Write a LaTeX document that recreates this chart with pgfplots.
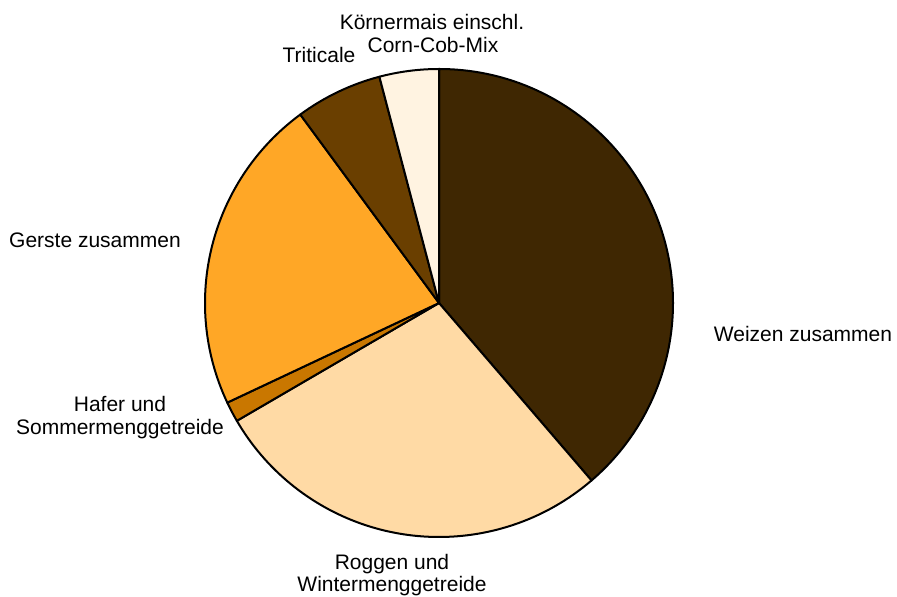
\documentclass[border=0pt]{standalone}
\usepackage{fontspec}
\setmainfont{Liberation Sans}
\usepackage{pgfplots}
\usepackage{pgfplotstable}
\pgfplotsset{compat=1.18}
\definecolor{cWeizen}{HTML}{3F2702}
\definecolor{cRoggen}{HTML}{FFDAA5}
\definecolor{cHafer}{HTML}{C97700}
\definecolor{cGerste}{HTML}{FFA726}
\definecolor{cTriti}{HTML}{6A3F00}
\definecolor{cMais}{HTML}{FFF3E1}
\pgfplotstableread{
label value
Weizen 38.7
Roggen 27.9
Hafer 1.4
Gerste 21.9
Triticale 6.0
Koernermais 4.1
}\pietab
\newcommand\getang[2]{%
  \pgfplotstablegetelem{#1}{value}\of\pietab
  \pgfmathsetmacro\tmpang{\cumang - 3.6*\pgfplotsretval}%
  \xdef#2{\tmpang}\xdef\cumang{\tmpang}}
\begin{document}
\begin{tikzpicture}
\xdef\cumang{90}
\getang{0}{\aA}\getang{1}{\aB}\getang{2}{\aC}\getang{3}{\aD}\getang{4}{\aE}\getang{5}{\aF}
\begin{axis}[x=1pt,y=1pt,xmin=0,xmax=897,ymin=0,ymax=597,hide axis,clip=false,
  at={(0,0)},anchor=south west,scale only axis]
\def\R{234pt}
\tikzset{wedge/.style={draw=black,line width=2pt,line join=round}}
\filldraw[wedge,fill=cWeizen] (axis cs:439,294) -- ++(90:\R) arc[start angle=90,end angle=\aA,radius=\R] -- cycle;
\filldraw[wedge,fill=cRoggen] (axis cs:439,294) -- ++(\aA:\R) arc[start angle=\aA,end angle=\aB,radius=\R] -- cycle;
\filldraw[wedge,fill=cHafer] (axis cs:439,294) -- ++(\aB:\R) arc[start angle=\aB,end angle=\aC,radius=\R] -- cycle;
\filldraw[wedge,fill=cGerste] (axis cs:439,294) -- ++(\aC:\R) arc[start angle=\aC,end angle=\aD,radius=\R] -- cycle;
\filldraw[wedge,fill=cTriti] (axis cs:439,294) -- ++(\aD:\R) arc[start angle=\aD,end angle=\aE,radius=\R] -- cycle;
\filldraw[wedge,fill=cMais] (axis cs:439,294) -- ++(\aE:\R) arc[start angle=\aE,end angle=\aF,radius=\R] -- cycle;
\tikzset{lab/.style={anchor=base,inner sep=0pt,font=\fontsize{21}{23}\selectfont}}
\node[lab] at (axis cs:432,567) {Körnermais einschl.};
\node[lab] at (axis cs:433,544) {Corn-Cob-Mix};
\node[lab] at (axis cs:319,534) {Triticale};
\node[lab] at (axis cs:95,349) {Gerste zusammen};
\node[lab] at (axis cs:803,255) {Weizen zusammen};
\node[lab] at (axis cs:120,185) {Hafer und};
\node[lab] at (axis cs:120,162) {Sommermenggetreide};
\node[lab] at (axis cs:392,27) {Roggen und};
\node[lab] at (axis cs:392,5) {Wintermenggetreide};
\end{axis}
\pgfresetboundingbox
\useasboundingbox (0,0) rectangle (897pt,597pt);
\end{tikzpicture}
\end{document}
